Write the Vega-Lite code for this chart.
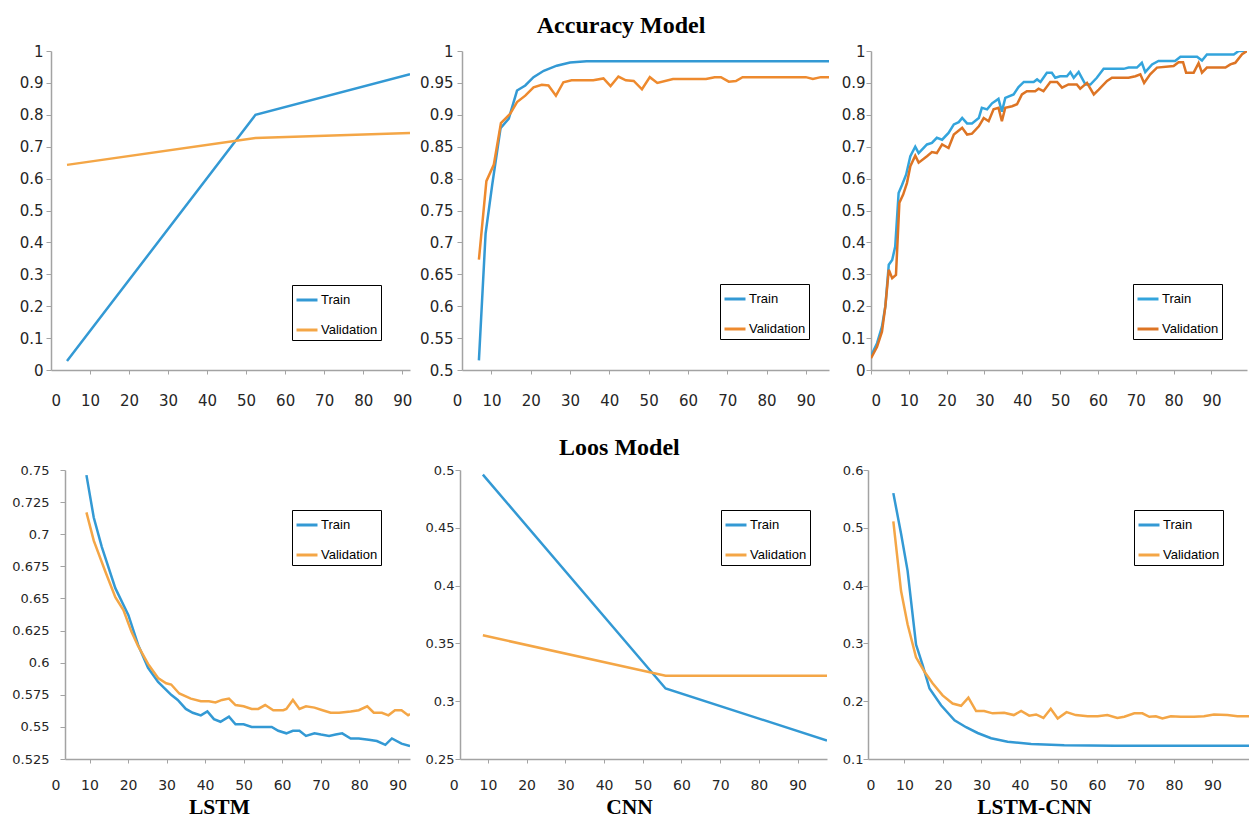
{
  "$schema": "https://vega.github.io/schema/vega-lite/v6.json",
  "background": "white",
  "padding": {"left": 11, "top": 14, "right": 0, "bottom": 0},
  "config": {
    "view": {"stroke": null},
    "font": "DejaVu Sans",
    "axis": {"grid": false, "domainColor": "#A3A3A3", "tickColor": "#A3A3A3", "domainWidth": 1.5, "labelColor": "#262626", "labelFont": "DejaVu Sans", "titleFont": "Liberation Serif", "titleFontWeight": "bold", "titleColor": "black", "titleFontSize": 21.5, "labelExpr": "format(datum.value, '.3~f')", "labelOverlap": false},
    "axisX": {"tickSize": 4, "labelPadding": 19, "labelFontSize": 14, "labelOverlap": false, "labelBound": false, "tickOpacity": {"condition": {"test": "datum.value === 0", "value": 0}, "value": 1}},
    "axisY": {"tickSize": 5, "labelPadding": 3},
    "legend": {"strokeColor": "black", "fillColor": "white", "padding": 3, "symbolType": "stroke", "symbolSize": 441, "symbolStrokeWidth": 3, "labelFont": "Liberation Sans", "labelFontSize": 13, "labelColor": "black", "rowPadding": 11, "labelOffset": 2, "title": null},
    "title": {"font": "Liberation Serif", "fontWeight": "bold", "fontSize": 24, "color": "black"}
  },
  "datasets": {
    "p1": [
      {"epoch": 4.1, "value": 0.028, "series": "Train"},
      {"epoch": 52.4, "value": 0.8, "series": "Train"},
      {"epoch": 92, "value": 0.927, "series": "Train"},
      {"epoch": 4.1, "value": 0.643, "series": "Validation"},
      {"epoch": 52.4, "value": 0.727, "series": "Validation"},
      {"epoch": 92, "value": 0.743, "series": "Validation"}
    ],
    "p2": [
      {"epoch": 6.8, "value": 0.515, "series": "Train"},
      {"epoch": 8.5, "value": 0.714, "series": "Train"},
      {"epoch": 10.2, "value": 0.791, "series": "Train"},
      {"epoch": 12.3, "value": 0.879, "series": "Train"},
      {"epoch": 14.4, "value": 0.894, "series": "Train"},
      {"epoch": 16.5, "value": 0.938, "series": "Train"},
      {"epoch": 18.6, "value": 0.946, "series": "Train"},
      {"epoch": 20.7, "value": 0.959, "series": "Train"},
      {"epoch": 23.3, "value": 0.969, "series": "Train"},
      {"epoch": 26.6, "value": 0.977, "series": "Train"},
      {"epoch": 30, "value": 0.982, "series": "Train"},
      {"epoch": 34.2, "value": 0.984, "series": "Train"},
      {"epoch": 95.9, "value": 0.984, "series": "Train"},
      {"epoch": 6.8, "value": 0.673, "series": "Validation"},
      {"epoch": 8.7, "value": 0.796, "series": "Validation"},
      {"epoch": 10.6, "value": 0.822, "series": "Validation"},
      {"epoch": 12.4, "value": 0.887, "series": "Validation"},
      {"epoch": 14.8, "value": 0.902, "series": "Validation"},
      {"epoch": 16.5, "value": 0.92, "series": "Validation"},
      {"epoch": 18.6, "value": 0.93, "series": "Validation"},
      {"epoch": 20.7, "value": 0.943, "series": "Validation"},
      {"epoch": 22.8, "value": 0.947, "series": "Validation"},
      {"epoch": 24.5, "value": 0.946, "series": "Validation"},
      {"epoch": 26.4, "value": 0.93, "series": "Validation"},
      {"epoch": 28.3, "value": 0.951, "series": "Validation"},
      {"epoch": 30.4, "value": 0.954, "series": "Validation"},
      {"epoch": 35.9, "value": 0.954, "series": "Validation"},
      {"epoch": 38.5, "value": 0.957, "series": "Validation"},
      {"epoch": 40.3, "value": 0.945, "series": "Validation"},
      {"epoch": 42.3, "value": 0.96, "series": "Validation"},
      {"epoch": 44.2, "value": 0.954, "series": "Validation"},
      {"epoch": 46.2, "value": 0.953, "series": "Validation"},
      {"epoch": 48.3, "value": 0.94, "series": "Validation"},
      {"epoch": 50.3, "value": 0.959, "series": "Validation"},
      {"epoch": 52.2, "value": 0.95, "series": "Validation"},
      {"epoch": 56.2, "value": 0.956, "series": "Validation"},
      {"epoch": 64.6, "value": 0.956, "series": "Validation"},
      {"epoch": 66.8, "value": 0.959, "series": "Validation"},
      {"epoch": 68.4, "value": 0.959, "series": "Validation"},
      {"epoch": 70.4, "value": 0.952, "series": "Validation"},
      {"epoch": 72.2, "value": 0.953, "series": "Validation"},
      {"epoch": 73.9, "value": 0.959, "series": "Validation"},
      {"epoch": 90, "value": 0.959, "series": "Validation"},
      {"epoch": 91.8, "value": 0.956, "series": "Validation"},
      {"epoch": 93.8, "value": 0.959, "series": "Validation"},
      {"epoch": 95.9, "value": 0.959, "series": "Validation"}
    ],
    "p3": [
      {"epoch": 0, "value": 0.044, "series": "Train"},
      {"epoch": 1.6, "value": 0.084, "series": "Train"},
      {"epoch": 2.9, "value": 0.136, "series": "Train"},
      {"epoch": 3.8, "value": 0.2, "series": "Train"},
      {"epoch": 4.7, "value": 0.33, "series": "Train"},
      {"epoch": 5.6, "value": 0.345, "series": "Train"},
      {"epoch": 6.4, "value": 0.387, "series": "Train"},
      {"epoch": 7.3, "value": 0.555, "series": "Train"},
      {"epoch": 8.2, "value": 0.58, "series": "Train"},
      {"epoch": 9.3, "value": 0.613, "series": "Train"},
      {"epoch": 10.4, "value": 0.67, "series": "Train"},
      {"epoch": 11.7, "value": 0.7, "series": "Train"},
      {"epoch": 12.6, "value": 0.68, "series": "Train"},
      {"epoch": 14.8, "value": 0.707, "series": "Train"},
      {"epoch": 16.1, "value": 0.712, "series": "Train"},
      {"epoch": 17.4, "value": 0.728, "series": "Train"},
      {"epoch": 18.8, "value": 0.722, "series": "Train"},
      {"epoch": 20.5, "value": 0.743, "series": "Train"},
      {"epoch": 21.9, "value": 0.77, "series": "Train"},
      {"epoch": 23.2, "value": 0.777, "series": "Train"},
      {"epoch": 24.1, "value": 0.79, "series": "Train"},
      {"epoch": 25.4, "value": 0.773, "series": "Train"},
      {"epoch": 26.7, "value": 0.773, "series": "Train"},
      {"epoch": 28.5, "value": 0.79, "series": "Train"},
      {"epoch": 29.3, "value": 0.822, "series": "Train"},
      {"epoch": 30.7, "value": 0.817, "series": "Train"},
      {"epoch": 32, "value": 0.836, "series": "Train"},
      {"epoch": 33.7, "value": 0.85, "series": "Train"},
      {"epoch": 34.6, "value": 0.81, "series": "Train"},
      {"epoch": 35.5, "value": 0.853, "series": "Train"},
      {"epoch": 37.7, "value": 0.864, "series": "Train"},
      {"epoch": 39, "value": 0.887, "series": "Train"},
      {"epoch": 40.4, "value": 0.903, "series": "Train"},
      {"epoch": 43, "value": 0.903, "series": "Train"},
      {"epoch": 43.9, "value": 0.911, "series": "Train"},
      {"epoch": 44.8, "value": 0.903, "series": "Train"},
      {"epoch": 46.5, "value": 0.932, "series": "Train"},
      {"epoch": 47.8, "value": 0.932, "series": "Train"},
      {"epoch": 48.7, "value": 0.916, "series": "Train"},
      {"epoch": 50, "value": 0.921, "series": "Train"},
      {"epoch": 51.8, "value": 0.921, "series": "Train"},
      {"epoch": 52.7, "value": 0.934, "series": "Train"},
      {"epoch": 53.6, "value": 0.916, "series": "Train"},
      {"epoch": 54.9, "value": 0.934, "series": "Train"},
      {"epoch": 56.7, "value": 0.895, "series": "Train"},
      {"epoch": 58, "value": 0.895, "series": "Train"},
      {"epoch": 59.7, "value": 0.916, "series": "Train"},
      {"epoch": 61.5, "value": 0.944, "series": "Train"},
      {"epoch": 66.8, "value": 0.944, "series": "Train"},
      {"epoch": 68.1, "value": 0.948, "series": "Train"},
      {"epoch": 70.3, "value": 0.948, "series": "Train"},
      {"epoch": 71.6, "value": 0.963, "series": "Train"},
      {"epoch": 72.5, "value": 0.934, "series": "Train"},
      {"epoch": 74.3, "value": 0.958, "series": "Train"},
      {"epoch": 76, "value": 0.969, "series": "Train"},
      {"epoch": 80.4, "value": 0.969, "series": "Train"},
      {"epoch": 81.8, "value": 0.982, "series": "Train"},
      {"epoch": 86.2, "value": 0.982, "series": "Train"},
      {"epoch": 87.5, "value": 0.97, "series": "Train"},
      {"epoch": 88.8, "value": 0.989, "series": "Train"},
      {"epoch": 95.9, "value": 0.989, "series": "Train"},
      {"epoch": 97.2, "value": 1.0, "series": "Train"},
      {"epoch": 99.4, "value": 1.0, "series": "Train"},
      {"epoch": 0, "value": 0.037, "series": "Validation"},
      {"epoch": 1.6, "value": 0.073, "series": "Validation"},
      {"epoch": 2.9, "value": 0.12, "series": "Validation"},
      {"epoch": 3.8, "value": 0.2, "series": "Validation"},
      {"epoch": 4.7, "value": 0.314, "series": "Validation"},
      {"epoch": 5.6, "value": 0.288, "series": "Validation"},
      {"epoch": 6.6, "value": 0.298, "series": "Validation"},
      {"epoch": 7.5, "value": 0.524, "series": "Validation"},
      {"epoch": 8.5, "value": 0.55, "series": "Validation"},
      {"epoch": 9.5, "value": 0.586, "series": "Validation"},
      {"epoch": 10.4, "value": 0.639, "series": "Validation"},
      {"epoch": 11.7, "value": 0.672, "series": "Validation"},
      {"epoch": 12.6, "value": 0.65, "series": "Validation"},
      {"epoch": 14.8, "value": 0.67, "series": "Validation"},
      {"epoch": 16.1, "value": 0.683, "series": "Validation"},
      {"epoch": 17.4, "value": 0.68, "series": "Validation"},
      {"epoch": 18.8, "value": 0.707, "series": "Validation"},
      {"epoch": 20.5, "value": 0.696, "series": "Validation"},
      {"epoch": 21.9, "value": 0.738, "series": "Validation"},
      {"epoch": 24.1, "value": 0.759, "series": "Validation"},
      {"epoch": 25.4, "value": 0.738, "series": "Validation"},
      {"epoch": 26.7, "value": 0.741, "series": "Validation"},
      {"epoch": 28.5, "value": 0.764, "series": "Validation"},
      {"epoch": 29.8, "value": 0.79, "series": "Validation"},
      {"epoch": 31.1, "value": 0.78, "series": "Validation"},
      {"epoch": 32.4, "value": 0.817, "series": "Validation"},
      {"epoch": 33.7, "value": 0.822, "series": "Validation"},
      {"epoch": 34.6, "value": 0.78, "series": "Validation"},
      {"epoch": 35.5, "value": 0.822, "series": "Validation"},
      {"epoch": 37.3, "value": 0.827, "series": "Validation"},
      {"epoch": 38.6, "value": 0.833, "series": "Validation"},
      {"epoch": 39.9, "value": 0.864, "series": "Validation"},
      {"epoch": 41.2, "value": 0.874, "series": "Validation"},
      {"epoch": 43.4, "value": 0.874, "series": "Validation"},
      {"epoch": 44.3, "value": 0.882, "series": "Validation"},
      {"epoch": 45.6, "value": 0.874, "series": "Validation"},
      {"epoch": 47.4, "value": 0.903, "series": "Validation"},
      {"epoch": 49.2, "value": 0.903, "series": "Validation"},
      {"epoch": 50.5, "value": 0.885, "series": "Validation"},
      {"epoch": 52.2, "value": 0.895, "series": "Validation"},
      {"epoch": 54.4, "value": 0.895, "series": "Validation"},
      {"epoch": 55.3, "value": 0.882, "series": "Validation"},
      {"epoch": 57.1, "value": 0.9, "series": "Validation"},
      {"epoch": 58.9, "value": 0.864, "series": "Validation"},
      {"epoch": 60.2, "value": 0.879, "series": "Validation"},
      {"epoch": 62.4, "value": 0.906, "series": "Validation"},
      {"epoch": 63.7, "value": 0.916, "series": "Validation"},
      {"epoch": 68.1, "value": 0.916, "series": "Validation"},
      {"epoch": 69.9, "value": 0.921, "series": "Validation"},
      {"epoch": 71.2, "value": 0.927, "series": "Validation"},
      {"epoch": 72.2, "value": 0.9, "series": "Validation"},
      {"epoch": 73.8, "value": 0.927, "series": "Validation"},
      {"epoch": 75.6, "value": 0.948, "series": "Validation"},
      {"epoch": 80, "value": 0.953, "series": "Validation"},
      {"epoch": 81.3, "value": 0.965, "series": "Validation"},
      {"epoch": 82.5, "value": 0.965, "series": "Validation"},
      {"epoch": 83.3, "value": 0.932, "series": "Validation"},
      {"epoch": 85.3, "value": 0.932, "series": "Validation"},
      {"epoch": 86.6, "value": 0.962, "series": "Validation"},
      {"epoch": 87.5, "value": 0.932, "series": "Validation"},
      {"epoch": 88.8, "value": 0.948, "series": "Validation"},
      {"epoch": 93.7, "value": 0.948, "series": "Validation"},
      {"epoch": 95, "value": 0.958, "series": "Validation"},
      {"epoch": 96.3, "value": 0.963, "series": "Validation"},
      {"epoch": 98.1, "value": 0.99, "series": "Validation"},
      {"epoch": 99.4, "value": 1.0, "series": "Validation"}
    ],
    "p4": [
      {"epoch": 9.2, "value": 0.746, "series": "Train"},
      {"epoch": 11.1, "value": 0.713, "series": "Train"},
      {"epoch": 13.2, "value": 0.69, "series": "Train"},
      {"epoch": 16.7, "value": 0.658, "series": "Train"},
      {"epoch": 20.1, "value": 0.637, "series": "Train"},
      {"epoch": 22.6, "value": 0.614, "series": "Train"},
      {"epoch": 25.2, "value": 0.596, "series": "Train"},
      {"epoch": 27.8, "value": 0.585, "series": "Train"},
      {"epoch": 31.2, "value": 0.575, "series": "Train"},
      {"epoch": 32.9, "value": 0.571, "series": "Train"},
      {"epoch": 35, "value": 0.564, "series": "Train"},
      {"epoch": 36.8, "value": 0.561, "series": "Train"},
      {"epoch": 38.9, "value": 0.559, "series": "Train"},
      {"epoch": 40.6, "value": 0.562, "series": "Train"},
      {"epoch": 42.3, "value": 0.556, "series": "Train"},
      {"epoch": 44, "value": 0.554, "series": "Train"},
      {"epoch": 46.2, "value": 0.558, "series": "Train"},
      {"epoch": 47.9, "value": 0.552, "series": "Train"},
      {"epoch": 50, "value": 0.552, "series": "Train"},
      {"epoch": 52.1, "value": 0.55, "series": "Train"},
      {"epoch": 55.1, "value": 0.55, "series": "Train"},
      {"epoch": 57.3, "value": 0.55, "series": "Train"},
      {"epoch": 59, "value": 0.547, "series": "Train"},
      {"epoch": 61.1, "value": 0.545, "series": "Train"},
      {"epoch": 62.8, "value": 0.547, "series": "Train"},
      {"epoch": 64.5, "value": 0.547, "series": "Train"},
      {"epoch": 66.2, "value": 0.543, "series": "Train"},
      {"epoch": 68.4, "value": 0.545, "series": "Train"},
      {"epoch": 70.1, "value": 0.544, "series": "Train"},
      {"epoch": 72.2, "value": 0.543, "series": "Train"},
      {"epoch": 73.9, "value": 0.544, "series": "Train"},
      {"epoch": 75.6, "value": 0.545, "series": "Train"},
      {"epoch": 77.8, "value": 0.541, "series": "Train"},
      {"epoch": 79.9, "value": 0.541, "series": "Train"},
      {"epoch": 82.5, "value": 0.54, "series": "Train"},
      {"epoch": 84.6, "value": 0.539, "series": "Train"},
      {"epoch": 86.8, "value": 0.536, "series": "Train"},
      {"epoch": 88.5, "value": 0.541, "series": "Train"},
      {"epoch": 91, "value": 0.537, "series": "Train"},
      {"epoch": 93.2, "value": 0.535, "series": "Train"},
      {"epoch": 9.2, "value": 0.717, "series": "Validation"},
      {"epoch": 11.1, "value": 0.695, "series": "Validation"},
      {"epoch": 14.1, "value": 0.671, "series": "Validation"},
      {"epoch": 16.7, "value": 0.651, "series": "Validation"},
      {"epoch": 18.8, "value": 0.641, "series": "Validation"},
      {"epoch": 20.9, "value": 0.624, "series": "Validation"},
      {"epoch": 22.6, "value": 0.613, "series": "Validation"},
      {"epoch": 25.2, "value": 0.599, "series": "Validation"},
      {"epoch": 27.8, "value": 0.588, "series": "Validation"},
      {"epoch": 29.9, "value": 0.584, "series": "Validation"},
      {"epoch": 31.2, "value": 0.583, "series": "Validation"},
      {"epoch": 33.3, "value": 0.576, "series": "Validation"},
      {"epoch": 36.3, "value": 0.572, "series": "Validation"},
      {"epoch": 38.9, "value": 0.57, "series": "Validation"},
      {"epoch": 41, "value": 0.57, "series": "Validation"},
      {"epoch": 42.7, "value": 0.569, "series": "Validation"},
      {"epoch": 44.4, "value": 0.571, "series": "Validation"},
      {"epoch": 46.2, "value": 0.572, "series": "Validation"},
      {"epoch": 47.9, "value": 0.567, "series": "Validation"},
      {"epoch": 50, "value": 0.566, "series": "Validation"},
      {"epoch": 52.1, "value": 0.564, "series": "Validation"},
      {"epoch": 53.8, "value": 0.564, "series": "Validation"},
      {"epoch": 55.6, "value": 0.567, "series": "Validation"},
      {"epoch": 57.7, "value": 0.563, "series": "Validation"},
      {"epoch": 60.3, "value": 0.563, "series": "Validation"},
      {"epoch": 61.1, "value": 0.564, "series": "Validation"},
      {"epoch": 62.8, "value": 0.571, "series": "Validation"},
      {"epoch": 64.5, "value": 0.564, "series": "Validation"},
      {"epoch": 66.2, "value": 0.566, "series": "Validation"},
      {"epoch": 68.4, "value": 0.565, "series": "Validation"},
      {"epoch": 70.5, "value": 0.563, "series": "Validation"},
      {"epoch": 72.6, "value": 0.561, "series": "Validation"},
      {"epoch": 74.8, "value": 0.561, "series": "Validation"},
      {"epoch": 77.8, "value": 0.562, "series": "Validation"},
      {"epoch": 79.9, "value": 0.563, "series": "Validation"},
      {"epoch": 82.1, "value": 0.566, "series": "Validation"},
      {"epoch": 83.8, "value": 0.561, "series": "Validation"},
      {"epoch": 85.9, "value": 0.561, "series": "Validation"},
      {"epoch": 87.6, "value": 0.559, "series": "Validation"},
      {"epoch": 89.3, "value": 0.563, "series": "Validation"},
      {"epoch": 91, "value": 0.563, "series": "Validation"},
      {"epoch": 92.7, "value": 0.559, "series": "Validation"},
      {"epoch": 93.2, "value": 0.56, "series": "Validation"}
    ],
    "p5": [
      {"epoch": 8.7, "value": 0.496, "series": "Train"},
      {"epoch": 55.9, "value": 0.311, "series": "Train"},
      {"epoch": 97.6, "value": 0.266, "series": "Train"},
      {"epoch": 8.7, "value": 0.357, "series": "Validation"},
      {"epoch": 55.9, "value": 0.322, "series": "Validation"},
      {"epoch": 97.6, "value": 0.322, "series": "Validation"}
    ],
    "p6": [
      {"epoch": 7.1, "value": 0.56, "series": "Train"},
      {"epoch": 9.1, "value": 0.49, "series": "Train"},
      {"epoch": 10.8, "value": 0.426, "series": "Train"},
      {"epoch": 13, "value": 0.298, "series": "Train"},
      {"epoch": 14.7, "value": 0.263, "series": "Train"},
      {"epoch": 16.5, "value": 0.222, "series": "Train"},
      {"epoch": 19.5, "value": 0.193, "series": "Train"},
      {"epoch": 23, "value": 0.167, "series": "Train"},
      {"epoch": 26, "value": 0.155, "series": "Train"},
      {"epoch": 29, "value": 0.145, "series": "Train"},
      {"epoch": 32.5, "value": 0.136, "series": "Train"},
      {"epoch": 36.8, "value": 0.13, "series": "Train"},
      {"epoch": 42.9, "value": 0.126, "series": "Train"},
      {"epoch": 51.5, "value": 0.124, "series": "Train"},
      {"epoch": 64.5, "value": 0.123, "series": "Train"},
      {"epoch": 99.5, "value": 0.123, "series": "Train"},
      {"epoch": 7.1, "value": 0.511, "series": "Validation"},
      {"epoch": 9.1, "value": 0.391, "series": "Validation"},
      {"epoch": 10.8, "value": 0.333, "series": "Validation"},
      {"epoch": 13, "value": 0.276, "series": "Validation"},
      {"epoch": 15.2, "value": 0.251, "series": "Validation"},
      {"epoch": 17.3, "value": 0.231, "series": "Validation"},
      {"epoch": 19.9, "value": 0.21, "series": "Validation"},
      {"epoch": 22.5, "value": 0.196, "series": "Validation"},
      {"epoch": 24.7, "value": 0.192, "series": "Validation"},
      {"epoch": 26.6, "value": 0.206, "series": "Validation"},
      {"epoch": 28.6, "value": 0.183, "series": "Validation"},
      {"epoch": 30.7, "value": 0.183, "series": "Validation"},
      {"epoch": 32.9, "value": 0.179, "series": "Validation"},
      {"epoch": 35.9, "value": 0.18, "series": "Validation"},
      {"epoch": 38.4, "value": 0.176, "series": "Validation"},
      {"epoch": 40.3, "value": 0.183, "series": "Validation"},
      {"epoch": 42.4, "value": 0.175, "series": "Validation"},
      {"epoch": 44.2, "value": 0.177, "series": "Validation"},
      {"epoch": 46.1, "value": 0.171, "series": "Validation"},
      {"epoch": 48, "value": 0.187, "series": "Validation"},
      {"epoch": 49.8, "value": 0.17, "series": "Validation"},
      {"epoch": 52.1, "value": 0.181, "series": "Validation"},
      {"epoch": 54.5, "value": 0.176, "series": "Validation"},
      {"epoch": 57.6, "value": 0.174, "series": "Validation"},
      {"epoch": 60.2, "value": 0.174, "series": "Validation"},
      {"epoch": 62.7, "value": 0.176, "series": "Validation"},
      {"epoch": 65.3, "value": 0.171, "series": "Validation"},
      {"epoch": 67.1, "value": 0.173, "series": "Validation"},
      {"epoch": 69.7, "value": 0.179, "series": "Validation"},
      {"epoch": 71.8, "value": 0.179, "series": "Validation"},
      {"epoch": 73.6, "value": 0.173, "series": "Validation"},
      {"epoch": 75.3, "value": 0.174, "series": "Validation"},
      {"epoch": 77, "value": 0.17, "series": "Validation"},
      {"epoch": 79.2, "value": 0.174, "series": "Validation"},
      {"epoch": 81.8, "value": 0.173, "series": "Validation"},
      {"epoch": 85.2, "value": 0.173, "series": "Validation"},
      {"epoch": 87.8, "value": 0.174, "series": "Validation"},
      {"epoch": 90.4, "value": 0.177, "series": "Validation"},
      {"epoch": 93.9, "value": 0.176, "series": "Validation"},
      {"epoch": 96.5, "value": 0.174, "series": "Validation"},
      {"epoch": 99.5, "value": 0.174, "series": "Validation"}
    ]
  },
  "vconcat": [
    {
      "title": {"text": "Accuracy Model", "anchor": "middle", "dx": -12, "offset": 6},
      "bounds": "flush",
      "spacing": 42,
      "resolve": {"scale": {"color": "independent"}, "legend": {"color": "independent"}},
      "hconcat": [
        {
          "width": 359, "height": 319,
          "data": {"name": "p1"},
          "mark": {"type": "line", "strokeWidth": 2.5, "clip": true},
          "encoding": {
            "x": {"field": "epoch", "type": "quantitative", "scale": {"domain": [0, 92], "nice": false, "zero": false}, "axis": {"values": [0, 10, 20, 30, 40, 50, 60, 70, 80, 90], "title": null, "labelFontSize": 15}},
            "y": {"field": "value", "type": "quantitative", "scale": {"domain": [0, 1], "nice": false, "zero": false}, "axis": {"values": [0, 0.1, 0.2, 0.3, 0.4, 0.5, 0.6, 0.7, 0.8, 0.9, 1], "title": null, "labelFontSize": 15, "labelPadding": 3}},
            "color": {"field": "series", "type": "nominal", "scale": {"domain": ["Train", "Validation"], "range": ["#3399D4", "#F4A646"]}, "legend": {"orient": "none", "legendX": 241, "legendY": 234}}
          }
        },
        {
          "width": 377, "height": 319,
          "data": {"name": "p2"},
          "mark": {"type": "line", "strokeWidth": 2.5, "clip": true},
          "encoding": {
            "x": {"field": "epoch", "type": "quantitative", "scale": {"domain": [-0.05, 95.9], "nice": false, "zero": false}, "axis": {"values": [0, 10, 20, 30, 40, 50, 60, 70, 80, 90], "title": null, "labelFontSize": 15, "domainDash": [0, 10, 3000, 0]}},
            "y": {"field": "value", "type": "quantitative", "scale": {"domain": [0.5, 1], "nice": false, "zero": false}, "axis": {"values": [0.5, 0.55, 0.6, 0.65, 0.7, 0.75, 0.8, 0.85, 0.9, 0.95, 1], "title": null, "labelFontSize": 15, "labelPadding": 4, "offset": -10}},
            "color": {"field": "series", "type": "nominal", "scale": {"domain": ["Train", "Validation"], "range": ["#3399D4", "#EE8A2E"]}, "legend": {"orient": "none", "legendX": 268, "legendY": 233}}
          }
        },
        {
          "width": 376, "height": 319,
          "data": {"name": "p3"},
          "mark": {"type": "line", "strokeWidth": 2.5, "clip": true},
          "encoding": {
            "x": {"field": "epoch", "type": "quantitative", "scale": {"domain": [0, 99.4], "nice": false, "zero": false}, "axis": {"values": [0, 10, 20, 30, 40, 50, 60, 70, 80, 90], "title": null, "labelFontSize": 15, "tickOpacity": 1}},
            "y": {"field": "value", "type": "quantitative", "scale": {"domain": [0, 1], "nice": false, "zero": false}, "axis": {"values": [0, 0.1, 0.2, 0.3, 0.4, 0.5, 0.6, 0.7, 0.8, 0.9, 1], "title": null, "labelFontSize": 15, "labelPadding": 1}},
            "color": {"field": "series", "type": "nominal", "scale": {"domain": ["Train", "Validation"], "range": ["#33A4DC", "#DD7424"]}, "legend": {"orient": "none", "legendX": 262, "legendY": 233}}
          }
        }
      ]
    },
    {
      "title": {"text": "Loos Model", "anchor": "middle", "dx": -11, "offset": 4},
      "bounds": "flush",
      "spacing": 39,
      "resolve": {"scale": {"color": "independent"}, "legend": {"color": "independent"}},
      "hconcat": [
        {
          "width": 359, "height": 289,
          "data": {"name": "p4"},
          "mark": {"type": "line", "strokeWidth": 2.5, "clip": true},
          "encoding": {
            "x": {"field": "epoch", "type": "quantitative", "scale": {"domain": [0, 93.2], "nice": false, "zero": false}, "axis": {"values": [0, 10, 20, 30, 40, 50, 60, 70, 80, 90], "title": "LSTM", "titleX": 168, "titleAlign": "center", "titlePadding": 4, "labelPadding": 15, "domainDash": [0, 14, 3000, 0]}},
            "y": {"field": "value", "type": "quantitative", "scale": {"domain": [0.525, 0.75], "nice": false, "zero": false}, "axis": {"values": [0.525, 0.55, 0.575, 0.6, 0.625, 0.65, 0.675, 0.7, 0.725, 0.75], "title": null, "labelFontSize": 13, "labelPadding": 11, "offset": -14}},
            "color": {"field": "series", "type": "nominal", "scale": {"domain": ["Train", "Validation"], "range": ["#3399D4", "#F4A646"]}, "legend": {"orient": "none", "legendX": 241, "legendY": 40}}
          }
        },
        {
          "width": 378, "height": 289,
          "data": {"name": "p5"},
          "mark": {"type": "line", "strokeWidth": 2.5, "clip": true},
          "encoding": {
            "x": {"field": "epoch", "type": "quantitative", "scale": {"domain": [-0.05, 97.6], "nice": false, "zero": false}, "axis": {"values": [0, 10, 20, 30, 40, 50, 60, 70, 80, 90], "title": "CNN", "titleX": 180, "titleAlign": "center", "titlePadding": 4, "labelPadding": 15, "domainDash": [0, 11, 3000, 0]}},
            "y": {"field": "value", "type": "quantitative", "scale": {"domain": [0.25, 0.5], "nice": false, "zero": false}, "axis": {"values": [0.25, 0.3, 0.35, 0.4, 0.45, 0.5], "title": null, "labelFontSize": 13, "labelPadding": 1, "offset": -11}},
            "color": {"field": "series", "type": "nominal", "scale": {"domain": ["Train", "Validation"], "range": ["#3399D4", "#F4A646"]}, "legend": {"orient": "none", "legendX": 272, "legendY": 40}}
          }
        },
        {
          "width": 383, "height": 289,
          "data": {"name": "p6"},
          "mark": {"type": "line", "strokeWidth": 2.5, "clip": true},
          "encoding": {
            "x": {"field": "epoch", "type": "quantitative", "scale": {"domain": [0, 99.5], "nice": false, "zero": false}, "axis": {"values": [0, 10, 20, 30, 40, 50, 60, 70, 80, 90], "title": "LSTM-CNN", "titleX": 168, "titleAlign": "center", "titlePadding": 4, "labelPadding": 15, "domainDash": [0, 2, 3000, 0]}},
            "y": {"field": "value", "type": "quantitative", "scale": {"domain": [0.1, 0.6], "nice": false, "zero": false}, "axis": {"values": [0.1, 0.2, 0.3, 0.4, 0.5, 0.6], "title": null, "labelFontSize": 13, "labelPadding": 0, "offset": -2}},
            "color": {"field": "series", "type": "nominal", "scale": {"domain": ["Train", "Validation"], "range": ["#3399D4", "#F4A646"]}, "legend": {"orient": "none", "legendX": 268, "legendY": 40}}
          }
        }
      ]
    }
  ],
  "spacing": 28,
  "bounds": "full",
  "align": "none",
  "resolve": {"scale": {"color": "independent"}, "legend": {"color": "independent"}}
}
